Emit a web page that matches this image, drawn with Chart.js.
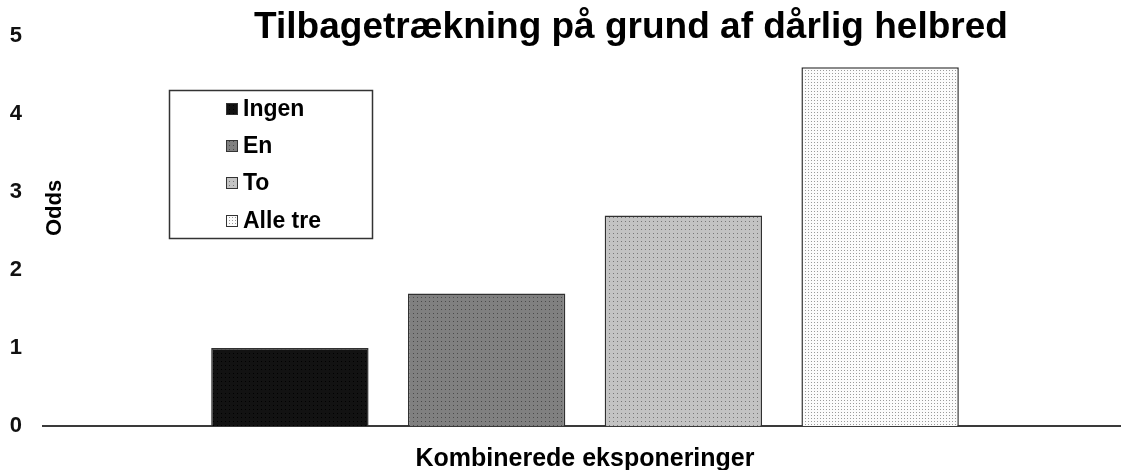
<!DOCTYPE html>
<html><head><meta charset="utf-8">
<script src="https://cdn.jsdelivr.net/npm/chart.js@4"></script>
<style>html,body{margin:0;padding:0;background:#fff;overflow:hidden;width:1121px;height:470px}#wrap{width:1121px;height:470px;overflow:hidden}</style>
</head><body><div id="wrap"><canvas id="c" width="1127" height="470"></canvas></div>
<script>
const chartTitle = 'Tilbagetrækning på grund af dårlig helbred';
const xAxisTitle = 'Kombinerede eksponeringer';
const yAxisTitle = 'Odds';
const categories = [''];
const seriesNames = ['Ingen', 'En', 'To', 'Alle tre'];
const ingenValues = [1.0];
const enValues = [1.7];
const toValues = [2.7];
const alleTreValues = [4.6];
const yTickValues = [0, 1, 2, 3, 4, 5];

const FONT = '"Liberation Sans", Arial, Helvetica, sans-serif';

function makePattern(bg, dot, size) {
  const c = document.createElement('canvas');
  c.width = size; c.height = size;
  const g = c.getContext('2d');
  g.fillStyle = bg; g.fillRect(0, 0, size, size);
  g.fillStyle = dot; g.fillRect(1, 1, 1, 1);
  return g.createPattern(c, 'repeat');
}
const fills = [
  makePattern('#121212', '#000000', 4),
  makePattern('#808080', '#4a4a4a', 4),
  makePattern('#c3c3c3', '#777777', 4),
  makePattern('#fbfbfb', '#9a9a9a', 3)
];
const seriesData = [ingenValues, enValues, toValues, alleTreValues];

const overlay = {
  id: 'overlay',
  afterDraw(chart) {
    const ctx = chart.ctx;
    ctx.save();
    ctx.fillStyle = '#000';
    ctx.font = 'bold 37px ' + FONT;
    ctx.textAlign = 'center'; ctx.textBaseline = 'alphabetic';
    ctx.fillText(chartTitle, 631, 38);
    ctx.font = 'bold 25px ' + FONT;
    ctx.fillText(xAxisTitle, 585, 466);
    ctx.save();
    ctx.translate(55, 208);
    ctx.rotate(-Math.PI / 2);
    ctx.font = 'bold 22px ' + FONT;
    ctx.textBaseline = 'middle';
    ctx.fillText(yAxisTitle, 0, 0);
    ctx.restore();
    ctx.lineWidth = 1.5;
    ctx.strokeStyle = '#333';
    ctx.strokeRect(169.5, 90.5, 203, 148);
    const rows = [109, 146, 183, 221];
    ctx.font = 'bold 23px ' + FONT;
    ctx.textAlign = 'left'; ctx.textBaseline = 'middle';
    chart.data.datasets.forEach((ds, i) => {
      const y = rows[i];
      ctx.fillStyle = ds.backgroundColor;
      ctx.fillRect(226, y - 6, 12, 12);
      ctx.lineWidth = 1;
      ctx.strokeStyle = '#333';
      ctx.strokeRect(226.5, y - 5.5, 11, 11);
      ctx.fillStyle = '#000';
      ctx.fillText(ds.label, 243, y + 1);
    });
    ctx.restore();
  }
};

new Chart(document.getElementById('c'), {
  type: 'bar',
  data: {
    labels: categories,
    datasets: seriesNames.map((name, i) => ({
      label: name,
      data: seriesData[i],
      backgroundColor: fills[i],
      borderColor: '#303030',
      borderWidth: 1.5,
      categoryPercentage: 0.726,
      barPercentage: 0.80
    }))
  },
  options: {
    responsive: false,
    animation: false,
    devicePixelRatio: 1,
    layout: { padding: { top: 36, right: 0, bottom: 0, left: 0 } },
    plugins: { legend: { display: false }, title: { display: false }, tooltip: { enabled: false } },
    scales: {
      x: {
        grid: { display: false },
        border: { display: true, color: '#3a3a3a', width: 2 },
        ticks: { display: false },
        afterFit(s) { s.height = 44; }
      },
      y: {
        min: 0, max: 5,
        afterBuildTicks(s) { s.ticks = yTickValues.map(v => ({ value: v })); },
        grid: { display: false, drawTicks: false },
        border: { display: false },
        ticks: { padding: 21, color: '#111', font: { size: 22, weight: 'bold', family: FONT } },
        afterFit(s) { s.width = 43; }
      }
    }
  },
  plugins: [overlay]
});
</script></body></html>
